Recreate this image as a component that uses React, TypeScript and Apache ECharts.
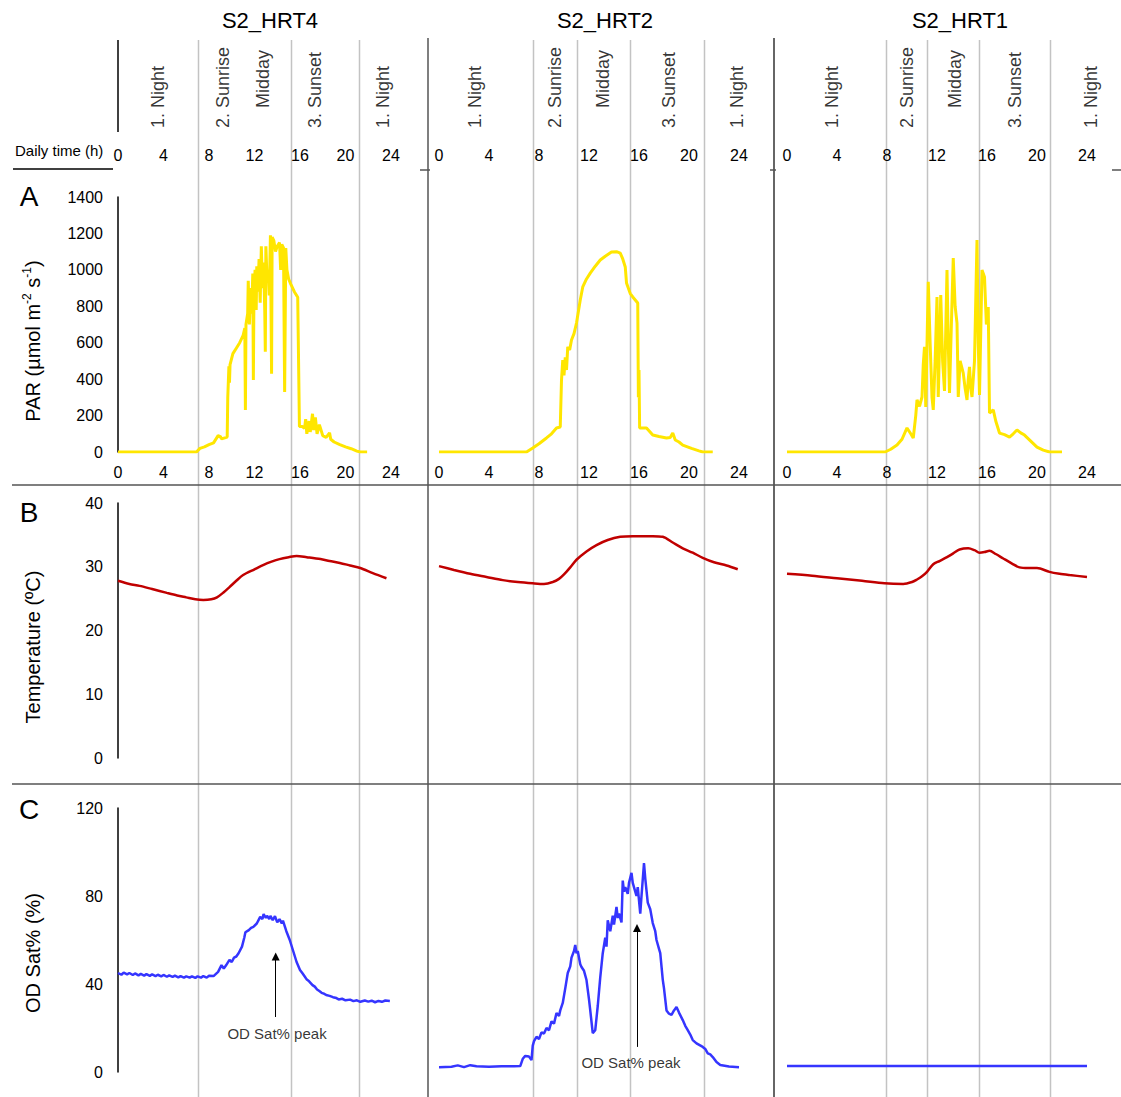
import React, { useEffect, useRef } from "react";
import * as echarts from "echarts";

const FONT = "'Liberation Sans', Arial, Helvetica, sans-serif";

const COLUMN_TITLES = ["S2_HRT4", "S2_HRT2", "S2_HRT1"];
const PANEL_LETTERS = ["A", "B", "C"];
const AXIS_TITLES = ["PAR", "Temperature (ºC)", "OD Sat% (%)"];
const TIME_LABEL = "Daily time (h)";
const PEAK_LABEL = "OD Sat% peak";

// Phase boundaries (h) for each reactor
const PHASE_BOUNDS = [
  [7.03, 15.21, 21.19],
  [7.52, 11.04, 15.28, 21.2],
  [7.92, 11.2, 15.36, 21.04],
];

// Phase names: [hour, height in header, text]
const PHASES_HRT4: [number, number, string][] = [
  [3.5, 12, "1. Night"], [9.2, 12, "2. Sunrise"], [12.75, 32, "Midday"], [17.3, 12, "3. Sunset"], [23.3, 12, "1. Night"],
];
const PHASES_HRT2: [number, number, string][] = [
  [2.9, 12, "1. Night"], [9.3, 12, "2. Sunrise"], [13.1, 32, "Midday"], [18.4, 12, "3. Sunset"], [23.8, 12, "1. Night"],
];
const PHASES_HRT1: [number, number, string][] = [
  [3.6, 12, "1. Night"], [9.6, 12, "2. Sunrise"], [13.4, 32, "Midday"], [18.2, 12, "3. Sunset"], [24.3, 12, "1. Night"],
];

// PAR (µmol m-2 s-1) vs hour
const PAR_HRT4 = [
  [0, 0], [6.9, 0], [7.2, 20], [7.6, 28], [8.0, 40], [8.4, 50], [8.8, 90], [9.0, 85], [9.1, 72], [9.6, 82],
  [9.65, 300], [9.75, 470], [9.8, 380], [9.85, 480], [10.1, 540], [10.4, 570], [10.7, 600], [11.0, 640],
  [11.15, 680], [11.2, 230], [11.25, 700], [11.4, 760], [11.45, 940], [11.55, 700], [11.65, 900], [11.75, 760],
  [11.85, 980], [11.9, 395], [11.95, 850], [12.05, 1000], [12.15, 780], [12.2, 1020], [12.3, 880], [12.4, 1060],
  [12.5, 820], [12.6, 1130], [12.7, 900], [12.8, 1040], [12.9, 780], [12.95, 550], [13.0, 1130], [13.1, 950],
  [13.2, 1000], [13.3, 860], [13.4, 1190], [13.5, 430], [13.55, 1180], [13.7, 1160], [13.85, 1100], [14.0, 1130],
  [14.2, 1150], [14.3, 1000], [14.4, 1140], [14.55, 1120], [14.65, 330], [14.75, 1120], [14.85, 1000], [15.0, 950],
  [15.2, 920], [15.5, 880], [15.8, 850], [15.95, 140], [16.2, 140], [16.4, 130], [16.5, 180], [16.6, 100],
  [16.8, 170], [16.9, 110], [17.1, 210], [17.2, 120], [17.35, 190], [17.5, 100], [17.7, 150], [17.8, 130],
  [18.0, 90], [18.3, 80], [18.6, 105], [18.7, 70], [19.0, 55], [19.5, 40], [20.0, 28], [20.5, 18], [21.0, 5],
  [21.3, 0], [21.9, 0],
];
const PAR_HRT2 = [
  [0, 0], [7.0, 0], [7.5, 22], [8.0, 45], [8.6, 77], [9.0, 100], [9.4, 132], [9.7, 137], [9.8, 395], [9.9, 505],
  [10.0, 420], [10.1, 520], [10.2, 450], [10.3, 577], [10.45, 560], [10.6, 615], [10.8, 650], [11.0, 708],
  [11.3, 835], [11.5, 906], [11.8, 950], [12.1, 982], [12.5, 1020], [12.9, 1054], [13.3, 1075], [13.8, 1098],
  [14.2, 1100], [14.5, 1092], [14.7, 1060], [14.9, 1016], [15.0, 928], [15.3, 870], [15.5, 851], [15.9, 818],
  [15.95, 300], [16.0, 450], [16.05, 132], [16.6, 132], [17.1, 93], [17.6, 85], [18.2, 77], [18.5, 80],
  [18.7, 104], [18.9, 66], [19.2, 55], [19.5, 38], [20.2, 20], [20.8, 6], [21.1, 0], [21.9, 0],
];
const PAR_HRT1 = [
  [0, 0], [7.85, 0], [8.3, 15], [8.8, 38], [9.2, 70], [9.6, 132], [9.9, 100], [10.1, 77], [10.3, 200], [10.4, 286],
  [10.6, 250], [10.8, 302], [10.9, 480], [11.0, 577], [11.1, 247], [11.3, 934], [11.45, 600], [11.6, 300],
  [11.7, 231], [11.85, 500], [12.0, 851], [12.1, 302], [12.3, 862], [12.45, 500], [12.6, 335], [12.8, 999],
  [12.9, 600], [13.0, 324], [13.15, 700], [13.3, 1065], [13.45, 800], [13.6, 708], [13.7, 302], [13.85, 500],
  [14.1, 433], [14.25, 350], [14.4, 286], [14.5, 400], [14.6, 467], [14.7, 350], [14.8, 302], [15.0, 500],
  [15.2, 1164], [15.3, 600], [15.4, 313], [15.6, 999], [15.8, 961], [15.95, 700], [16.1, 796], [16.2, 214],
  [16.5, 231], [16.7, 170], [17.0, 104], [17.4, 95], [17.8, 82], [18.1, 100], [18.4, 121], [18.7, 105],
  [19.0, 93], [19.5, 60], [20.0, 27], [20.5, 10], [21.0, 0], [22.0, 0],
];

// Water temperature (ºC) vs hour
const TEMP_HRT4 = [
  [0, 27.8], [1.0, 27.3], [1.9, 27.0], [3.0, 26.5], [4.3, 25.9], [5.2, 25.5], [6.0, 25.2], [6.8, 24.9],
  [7.5, 24.8], [8.2, 24.9], [8.7, 25.2], [9.3, 26.0], [9.8, 26.8], [10.4, 27.8], [11.0, 28.7], [12.0, 29.6],
  [12.8, 30.3], [13.5, 30.8], [14.2, 31.2], [15.0, 31.5], [15.7, 31.7], [16.6, 31.5], [17.8, 31.2], [18.6, 30.9],
  [19.5, 30.6], [20.4, 30.2], [21.3, 29.8], [22.4, 29.0], [23.6, 28.2],
];
const TEMP_HRT2 = [
  [0, 30.1], [1.2, 29.5], [2.5, 28.9], [3.8, 28.4], [5.1, 27.9], [6.3, 27.6], [7.5, 27.4], [8.4, 27.3],
  [9.1, 27.6], [9.6, 28.1], [10.0, 28.8], [10.5, 29.9], [11.0, 31.1], [11.8, 32.4], [12.6, 33.4], [13.5, 34.2],
  [14.5, 34.7], [15.5, 34.8], [16.3, 34.8], [17.1, 34.8], [17.9, 34.7], [18.7, 33.8], [19.5, 32.9], [20.3, 32.2],
  [21.1, 31.4], [22.0, 30.7], [23.0, 30.2], [23.9, 29.6],
];
const TEMP_HRT1 = [
  [0, 28.9], [2.0, 28.6], [4.0, 28.2], [6.0, 27.8], [7.8, 27.4], [9.3, 27.3], [10.0, 27.6], [10.4, 28.0],
  [10.8, 28.5], [11.2, 29.2], [11.7, 30.4], [12.2, 30.9], [12.8, 31.5], [13.3, 32.1], [13.8, 32.7], [14.5, 32.9],
  [15.0, 32.6], [15.4, 32.2], [15.8, 32.3], [16.2, 32.5], [16.7, 32.0], [17.3, 31.3], [18.0, 30.5], [18.6, 29.9],
  [19.3, 29.8], [20.0, 29.8], [21.0, 29.2], [21.8, 28.9], [22.6, 28.7], [24.0, 28.4],
];

// Oxygen saturation (%) vs hour
const OD_HRT4 = [
  [0, 45], [0.3, 44.2], [0.5, 45.2], [0.8, 44.4], [1, 45], [1.3, 44.1], [1.5, 44.8], [1.8, 43.9], [2, 44.6],
  [2.3, 43.8], [2.5, 44.5], [2.8, 43.7], [3, 44.4], [3.3, 43.6], [3.5, 44.2], [3.8, 43.5], [4, 44.1], [4.3, 43.3],
  [4.5, 43.9], [4.8, 43.2], [5, 43.8], [5.3, 43.0], [5.5, 43.6], [5.8, 42.9], [6, 43.5], [6.3, 42.9], [6.5, 43.5],
  [6.8, 42.8], [7, 43.5], [7.3, 42.9], [7.5, 43.6], [7.8, 42.9], [8, 43.7], [8.4, 43.6], [8.8, 45.5],
  [9.1, 48.6], [9.3, 47], [9.5, 48.5], [9.8, 51], [10.0, 50], [10.2, 52], [10.4, 52.5], [10.6, 54], [10.9, 57],
  [11.1, 61], [11.2, 63.5], [11.5, 64.5], [11.7, 65.5], [11.9, 66], [12.2, 67.5], [12.4, 69.5], [12.5, 70.5],
  [12.7, 69.5], [12.8, 71.8], [13.0, 70], [13.1, 71], [13.3, 69.5], [13.4, 71], [13.6, 69], [13.8, 70.8],
  [14.0, 68], [14.2, 69.5], [14.4, 67.5], [14.5, 68.8], [14.8, 64], [15.1, 60], [15.4, 55], [15.7, 50],
  [16.0, 46.4], [16.2, 45], [16.4, 43.5], [16.6, 42], [16.8, 41.2], [17.1, 39.5], [17.3, 38.8], [17.5, 37.5],
  [17.7, 36.8], [17.9, 36], [18.1, 35.6], [18.3, 35], [18.6, 34.6], [18.9, 34], [19.2, 33.6], [19.4, 33],
  [19.7, 33.3], [20.0, 32.6], [20.4, 32.9], [20.7, 32.2], [21.0, 32.6], [21.3, 31.9], [21.7, 32.5], [22, 32.0],
  [22.3, 32.4], [22.6, 31.7], [22.9, 32.3], [23.2, 31.9], [23.5, 32.5], [23.9, 32.3],
];
const OD_HRT2 = [
  [0, 2.2], [1, 2.4], [1.5, 3.0], [2, 2.2], [2.5, 3.1], [3, 2.6], [4, 2.4], [5, 2.6], [6, 2.6], [6.5, 2.7],
  [6.7, 6.0], [6.9, 7.3], [7.2, 7.0], [7.4, 5.4], [7.5, 12], [7.6, 14], [7.8, 16], [8.0, 15], [8.2, 18],
  [8.4, 17.5], [8.6, 20], [8.8, 19], [9.0, 23], [9.2, 22], [9.4, 26.8], [9.6, 25.5], [9.7, 28], [9.9, 31.4],
  [10.1, 38], [10.3, 45], [10.5, 48], [10.6, 52], [10.8, 55], [10.9, 57.7], [11.0, 54], [11.1, 55],
  [11.3, 49], [11.4, 47.7], [11.6, 46], [11.8, 41.8], [12.0, 33], [12.1, 28], [12.3, 17.7], [12.5, 19],
  [12.7, 30], [12.9, 43], [13.1, 54], [13.3, 61], [13.4, 57], [13.5, 69], [13.7, 64], [13.9, 71], [14.0, 67],
  [14.2, 75], [14.3, 70], [14.4, 72], [14.6, 68], [14.7, 87], [14.8, 82], [14.9, 84], [15.1, 81],
  [15.2, 86], [15.4, 90.5], [15.5, 86], [15.7, 82], [15.8, 80], [15.9, 84], [16.1, 72], [16.2, 80],
  [16.4, 95], [16.5, 88], [16.7, 77], [16.9, 74], [17.1, 67.7], [17.3, 64], [17.4, 60], [17.6, 56],
  [17.7, 54], [17.9, 42], [18.0, 38], [18.2, 28], [18.4, 26.5], [18.6, 26], [18.8, 28], [19.0, 29.5],
  [19.2, 27], [19.5, 23.6], [19.7, 21], [19.9, 19], [20.1, 17], [20.3, 14.5], [20.6, 13], [21.1, 11.4],
  [21.3, 10.5], [21.5, 8.5], [21.7, 8], [21.9, 6.8], [22.2, 4.5], [22.5, 3.2], [23.2, 2.5], [24.0, 2.2],
];
const OD_HRT1 = [
  [0, 2.7], [4, 2.7], [8, 2.7], [12, 2.7], [16, 2.7], [20, 2.7], [24, 2.7],
];

// Peak annotations: [arrow hour, arrow base, arrow tip, label hour, label height]
const PEAK_HRT4 = [13.86, 25, 52.5, 13.98, 17.7];
const PEAK_HRT2 = [15.84, 11.4, 65.5, 15.36, 4.5];

const PAR_SERIES = [PAR_HRT4, PAR_HRT2, PAR_HRT1];
const TEMP_SERIES = [TEMP_HRT4, TEMP_HRT2, TEMP_HRT1];
const OD_SERIES = [OD_HRT4, OD_HRT2, OD_HRT1];
const PHASES = [PHASES_HRT4, PHASES_HRT2, PHASES_HRT1];
const PEAKS = [PEAK_HRT4, PEAK_HRT2, null];

const Y_RANGES = [
  { min: 0, max: 1400, interval: 200 },
  { min: 0, max: 40, interval: 10 },
  { min: 0, max: 120, interval: 40 },
  { min: 0, max: 100, interval: 50 },
];

// layout in px
const GRID_COLS = [
  { left: 118, width: 273 },
  { left: 439, width: 300 },
  { left: 787, width: 300 },
];
const GRID_ROWS = [
  { top: 197, height: 255 },
  { top: 503, height: 255 },
  { top: 808, height: 264 },
  { top: 40, height: 100 },
];

const W = 1121;
const H = 1097;

function gi(row: number, col: number) {
  return row * 3 + col;
}

function buildOption() {
  const grid: any[] = [];
  const xAxis: any[] = [];
  const yAxis: any[] = [];
  for (let r = 0; r < 4; r++) {
    for (let c = 0; c < 3; c++) {
      grid.push({
        left: GRID_COLS[c].left,
        width: GRID_COLS[c].width,
        top: GRID_ROWS[r].top,
        height: GRID_ROWS[r].height,
        containLabel: false,
      });
      const showX = r === 0 || r === 3;
      xAxis.push({
        type: "value",
        gridIndex: gi(r, c),
        min: 0,
        max: 24,
        interval: 4,
        show: showX,
        axisLine: { show: false },
        axisTick: { show: false },
        splitLine: { show: false },
        axisLabel: {
          show: showX,
          color: "#000",
          fontFamily: FONT,
          fontSize: 16,
          margin: r === 3 ? 7 : 12,
        },
      });
      const yr = Y_RANGES[r];
      const showY = c === 0 && r < 3;
      yAxis.push({
        type: "value",
        gridIndex: gi(r, c),
        min: yr.min,
        max: yr.max,
        interval: yr.interval,
        show: showY,
        axisLine: { show: showY, lineStyle: { color: "#000", width: 1.5 } },
        axisTick: { show: false },
        splitLine: { show: false },
        axisLabel: {
          show: showY,
          color: "#000",
          fontFamily: FONT,
          fontSize: 16,
          margin: 15,
          formatter: (v: number) => String(v),
        },
      });
    }
  }

  const series: any[] = [];
  for (let c = 0; c < 3; c++) {
    series.push({
      type: "line",
      xAxisIndex: gi(0, c),
      yAxisIndex: gi(0, c),
      data: PAR_SERIES[c],
      showSymbol: false,
      lineStyle: { color: "#FFE600", width: 3 },
      itemStyle: { color: "#FFE600" },
      emphasis: { disabled: true },
      z: 3,
    });
    series.push({
      type: "line",
      xAxisIndex: gi(1, c),
      yAxisIndex: gi(1, c),
      data: TEMP_SERIES[c],
      showSymbol: false,
      smooth: 0.3,
      lineStyle: { color: "#C00000", width: 2.5 },
      itemStyle: { color: "#C00000" },
      emphasis: { disabled: true },
      z: 3,
    });
    const peak = PEAKS[c];
    series.push({
      type: "line",
      xAxisIndex: gi(2, c),
      yAxisIndex: gi(2, c),
      data: OD_SERIES[c],
      showSymbol: false,
      lineStyle: { color: "#3535FF", width: 2.5 },
      itemStyle: { color: "#3535FF" },
      emphasis: { disabled: true },
      z: 3,
      markLine: peak
        ? {
            silent: true,
            symbol: ["none", "triangle"],
            symbolSize: 8,
            lineStyle: { color: "#000", width: 1, type: "solid" },
            itemStyle: { color: "#000" },
            label: { show: false },
            emphasis: { disabled: true },
            data: [[{ coord: [peak[0], peak[1]] }, { coord: [peak[0], peak[2]] }]],
          }
        : undefined,
    });
    if (peak) {
      series.push({
        type: "scatter",
        xAxisIndex: gi(2, c),
        yAxisIndex: gi(2, c),
        data: [[peak[3], peak[4], PEAK_LABEL]],
        symbolSize: 0,
        silent: true,
        label: {
          show: true,
          position: "inside",
          formatter: (p: any) => p.data[2],
          color: "#000",
          fontFamily: FONT,
          fontSize: 15,
        },
        z: 4,
      });
    }
    series.push({
      type: "scatter",
      xAxisIndex: gi(3, c),
      yAxisIndex: gi(3, c),
      data: PHASES[c],
      symbolSize: 0,
      silent: true,
      clip: false,
      label: {
        show: true,
        position: "inside",
        formatter: (p: any) => p.data[2],
        rotate: 90,
        align: "left",
        verticalAlign: "middle",
        color: "#000",
        fontFamily: FONT,
        fontSize: 18,
      },
      z: 4,
    });
  }

  return {
    animation: false,
    backgroundColor: "#fff",
    textStyle: { fontFamily: FONT },
    grid,
    xAxis,
    yAxis,
    series,
  };
}

function buildGraphics(chart: any) {
  const els: any[] = [];
  const line = (x1: number, y1: number, x2: number, y2: number, color: string, width: number, z = 1) =>
    els.push({
      type: "line",
      z,
      silent: true,
      shape: { x1, y1, x2, y2 },
      style: { stroke: color, lineWidth: width },
    });
  const text = (x: number, y: number, t: string, size: number, extra: any = {}, rotation = 0) =>
    els.push({
      type: "text",
      x,
      y,
      rotation,
      z: 10,
      silent: true,
      style: {
        text: t,
        fontFamily: FONT,
        fontSize: size,
        fill: "#000",
        align: "center",
        verticalAlign: "middle",
        ...extra,
      },
    });

  // phase boundaries spanning all panels
  for (let c = 0; c < 3; c++) {
    for (const b of PHASE_BOUNDS[c]) {
      const x = Math.round(chart.convertToPixel({ xAxisIndex: gi(3, c) }, b)) + 0.5;
      line(x, 40, x, H, "#C3C3C3", 1.5, 0);
    }
  }
  // header axis of the first column
  const x0 = chart.convertToPixel({ xAxisIndex: gi(3, 0) }, 0);
  line(x0, 40, x0, 132, "#000", 1.5);

  // table frame
  line(428, 38, 428, H, "#555", 1.5);
  line(774, 38, 774, H, "#333", 1.5);
  line(12, 485, W, 485, "#555", 1.5);
  line(12, 784, W, 784, "#555", 1.5);
  line(13, 169, 113, 169, "#000", 1.5);
  line(420, 170, 430, 170, "#555", 1.5);
  line(770, 170, 776, 170, "#555", 1.5);
  line(1112, 170, W, 170, "#555", 1.5);

  // column titles
  const titleX = [270, 605, 960];
  COLUMN_TITLES.forEach((t, i) => text(titleX[i], 20, t, 22));

  text(15, 150, TIME_LABEL, 15, { align: "left" });

  const letterY = [196, 512, 809];
  PANEL_LETTERS.forEach((l, i) => text(29, letterY[i], l, 28));

  // y-axis titles
  els.push({
    type: "text",
    x: 33,
    y: 341,
    rotation: Math.PI / 2,
    z: 10,
    silent: true,
    style: {
      text: "{n|" + AXIS_TITLES[0] + " (µmol m}{s|-2}{n| s}{s|-1}{n|)}",
      fontFamily: FONT,
      fill: "#000",
      align: "center",
      verticalAlign: "middle",
      rich: {
        n: { fontSize: 20, fontFamily: FONT, fill: "#000", lineHeight: 24 },
        s: { fontSize: 12, fontFamily: FONT, fill: "#000", verticalAlign: "top", lineHeight: 14 },
      },
    },
  });
  text(33, 647, AXIS_TITLES[1], 20, {}, Math.PI / 2);
  text(33, 953, AXIS_TITLES[2], 20, {}, Math.PI / 2);

  return els;
}

export default function App() {
  const ref = useRef<HTMLDivElement>(null);
  useEffect(() => {
    if (!ref.current) return;
    const chart = echarts.init(ref.current, undefined, { renderer: "svg", width: W, height: H });
    chart.setOption(buildOption() as any);
    chart.setOption({ graphic: { elements: buildGraphics(chart) } } as any);
    return () => chart.dispose();
  }, []);
  return (
    <div
      ref={ref}
      style={{ position: "absolute", left: 0, top: 0, width: W, height: H, background: "#fff" }}
    />
  );
}
